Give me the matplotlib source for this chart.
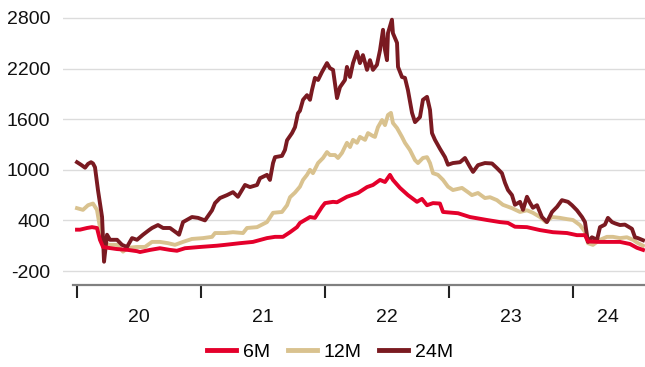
import matplotlib
matplotlib.use("Agg")
import matplotlib.pyplot as plt
import numpy as np

plt.rcParams['font.family'] = ['Liberation Sans', 'DejaVu Sans']

# decimal years and values
t24 = [2020.000, 2020.032, 2020.065, 2020.089, 2020.113, 2020.129, 2020.145, 2020.169, 2020.202, 2020.218,
       2020.242, 2020.266, 2020.323, 2020.363, 2020.403, 2020.444, 2020.484, 2020.532, 2020.581, 2020.605,
       2020.653, 2020.694, 2020.750, 2020.806, 2020.823, 2020.855, 2020.927, 2020.976, 2021.032, 2021.089,
       2021.113, 2021.153, 2021.210, 2021.258, 2021.298, 2021.355, 2021.395, 2021.452, 2021.476, 2021.532,
       2021.556, 2021.581, 2021.597, 2021.653, 2021.677, 2021.694, 2021.734, 2021.758, 2021.782, 2021.798,
       2021.823, 2021.855, 2021.879, 2021.895, 2021.919, 2021.944, 2021.976, 2022.016, 2022.040, 2022.065,
       2022.097, 2022.121, 2022.161, 2022.177, 2022.202, 2022.226, 2022.258, 2022.282, 2022.306, 2022.339,
       2022.363, 2022.387, 2022.419, 2022.444, 2022.468, 2022.484, 2022.500, 2022.508, 2022.540, 2022.548,
       2022.581, 2022.589, 2022.621, 2022.645, 2022.669, 2022.702, 2022.726, 2022.766, 2022.790, 2022.823,
       2022.847, 2022.863, 2022.887, 2022.927, 2022.968, 2022.992, 2023.032, 2023.089, 2023.129, 2023.169,
       2023.194, 2023.234, 2023.290, 2023.347, 2023.387, 2023.427, 2023.452, 2023.476, 2023.508, 2023.532,
       2023.573, 2023.597, 2023.629, 2023.653, 2023.677, 2023.710, 2023.750, 2023.790, 2023.831, 2023.871,
       2023.911, 2023.960, 2023.992, 2024.032, 2024.073, 2024.097, 2024.121, 2024.153, 2024.194, 2024.218,
       2024.258, 2024.282, 2024.315, 2024.339, 2024.379, 2024.419, 2024.476, 2024.500, 2024.524, 2024.565]
v24 = [1090, 1060, 1025, 1070, 1090, 1075, 1030, 760, 440, -90,
       230, 170, 170, 110, 85, 190, 170, 230, 285, 310,
       345, 310, 310, 250, 230, 380, 440, 430, 400, 520,
       605, 665, 700, 735, 680, 820, 795, 820, 900, 940,
       880, 1080, 1150, 1165, 1235, 1350, 1435, 1505, 1670, 1700,
       1830, 1885, 1830, 1945, 2090, 2065, 2160, 2265, 2205, 2185,
       1850, 1980, 2065, 2220, 2100, 2265, 2400, 2265, 2360, 2185,
       2300, 2185, 2245, 2420, 2660, 2420, 2300, 2620, 2780, 2620,
       2505, 2220, 2100, 2090, 1945, 1675, 1565, 1625, 1830, 1865,
       1710, 1435, 1355, 1250, 1150, 1060, 1080, 1090, 1140, 1035,
       975, 1055, 1080, 1075, 1020, 960, 845, 760, 700, 585,
       620, 525, 680, 610, 550, 580, 440, 380, 500, 560,
       640, 620, 580, 520, 440, 380, 145, 200, 170, 320,
       350, 430, 380, 365, 345, 350, 300, 200, 190, 165]

t12 = [2020.000, 2020.048, 2020.089, 2020.129, 2020.161, 2020.185, 2020.210, 2020.250, 2020.323, 2020.371,
       2020.411, 2020.484, 2020.548, 2020.605, 2020.669, 2020.734, 2020.790, 2020.855, 2020.927, 2021.016,
       2021.089, 2021.113, 2021.194, 2021.258, 2021.339, 2021.371, 2021.452, 2021.532, 2021.581, 2021.653,
       2021.694, 2021.718, 2021.758, 2021.798, 2021.823, 2021.855, 2021.879, 2021.903, 2021.944, 2021.984,
       2022.016, 2022.040, 2022.081, 2022.105, 2022.137, 2022.177, 2022.202, 2022.226, 2022.258, 2022.282,
       2022.323, 2022.347, 2022.387, 2022.403, 2022.427, 2022.460, 2022.484, 2022.508, 2022.532, 2022.548,
       2022.581, 2022.621, 2022.645, 2022.685, 2022.726, 2022.750, 2022.790, 2022.823, 2022.847, 2022.871,
       2022.911, 2022.952, 2022.992, 2023.032, 2023.105, 2023.153, 2023.185, 2023.234, 2023.290, 2023.331,
       2023.387, 2023.435, 2023.508, 2023.573, 2023.629, 2023.677, 2023.734, 2023.782, 2023.831, 2023.895,
       2023.952, 2024.000, 2024.056, 2024.097, 2024.121, 2024.161, 2024.218, 2024.274, 2024.323, 2024.379,
       2024.435, 2024.484, 2024.524, 2024.565]
v12 = [545, 525, 580, 600, 525, 320, 170, 110, 110, 30,
       75, 85, 85, 145, 145, 130, 110, 145, 180, 190,
       205, 250, 250, 260, 250, 310, 320, 380, 490, 500,
       580, 675, 730, 800, 880, 940, 1000, 960, 1080, 1140,
       1210, 1175, 1175, 1140, 1200, 1320, 1270, 1355, 1320, 1390,
       1355, 1435, 1400, 1390, 1505, 1590, 1530, 1650, 1675, 1555,
       1495, 1390, 1320, 1235, 1115, 1080, 1140, 1150, 1080, 960,
       940, 880, 800, 760, 785, 735, 700, 725, 665, 675,
       640, 585, 545, 500, 520, 490, 440, 380, 440, 430,
       415, 405, 345, 265, 130, 110, 170, 205, 205, 190,
       200, 170, 130, 100]

t6 = [2020.000, 2020.024, 2020.081, 2020.121, 2020.161, 2020.185, 2020.210, 2020.250, 2020.323, 2020.411,
      2020.484, 2020.508, 2020.589, 2020.669, 2020.750, 2020.806, 2020.871, 2020.992, 2021.129, 2021.194,
      2021.315, 2021.419, 2021.532, 2021.597, 2021.661, 2021.718, 2021.774, 2021.798, 2021.879, 2021.919,
      2021.976, 2022.000, 2022.065, 2022.097, 2022.177, 2022.266, 2022.339, 2022.387, 2022.444, 2022.484,
      2022.524, 2022.548, 2022.605, 2022.669, 2022.742, 2022.782, 2022.823, 2022.871, 2022.927, 2022.952,
      2023.032, 2023.073, 2023.169, 2023.306, 2023.411, 2023.476, 2023.532, 2023.629, 2023.734, 2023.839,
      2023.952, 2024.032, 2024.097, 2024.121, 2024.218, 2024.379, 2024.460, 2024.516, 2024.565]
v6 = [290, 290, 310, 320, 310, 170, 85, 75, 60, 50,
      35, 25, 50, 70, 50, 40, 70, 85, 100, 110,
      130, 145, 190, 205, 205, 260, 320, 370, 440, 430,
      560, 605, 620, 615, 680, 725, 795, 820, 880, 855,
      940, 880, 785, 700, 620, 655, 580, 605, 600, 500,
      490, 485, 440, 405, 380, 370, 325, 320, 285, 260,
      250, 225, 225, 150, 145, 145, 120, 75, 50]

years = [2020, 2021, 2022, 2023, 2024]
year_labels = ['20', '21', '22', '23', '24']
# label sits in the middle of the visible part of each year
label_pos = [2020.5, 2021.5, 2022.5, 2023.5, 2024.28]
yticks = [-200, 400, 1000, 1600, 2200, 2800]

fig = plt.figure(figsize=(6.45, 3.67), dpi=100)
ax = fig.add_axes([63 / 645, 82 / 367, 582 / 645, 280 / 367])

ax.plot(t6, v6, color='#E4002B', lw=2.8, label='6M', zorder=3)
ax.plot(t12, v12, color='#D9C28F', lw=2.8, label='12M', zorder=2)
ax.plot(t24, v24, color='#7A1A21', lw=2.8, label='24M', zorder=2.5)

ax.set_xlim(2019.887, 2024.581)
ax.set_ylim(-366, 2954)

ax.set_yticks(yticks)
ax.set_yticklabels([str(y) for y in yticks])
ax.yaxis.grid(True, color='#dcdcdc', lw=1.0)
ax.set_axisbelow(True)
ax.tick_params(axis='y', length=0, pad=9, labelsize=14, labelcolor='#111111')

ax.set_xticks(years)
ax.set_xticklabels([])
ax.set_xticks(label_pos, minor=True)
ax.set_xticklabels(year_labels, minor=True)
ax.tick_params(axis='x', which='major', length=9, width=1.5, color='#222222', direction='out')
ax.tick_params(axis='x', which='minor', length=0, pad=17, labelsize=14, labelcolor='#111111')

for s in ['top', 'right', 'left']:
    ax.spines[s].set_visible(False)
ax.spines['bottom'].set_color('#808080')
ax.spines['bottom'].set_linewidth(1.6)
ax.spines['bottom'].set_bounds(2019.968, 2024.581)

fig.legend(loc='center', bbox_to_anchor=(0.512, 0.041), ncol=3, frameon=False,
           fontsize=14, handlelength=1.5, handletextpad=0.35, columnspacing=0.9)
for line in fig.legends[0].get_lines():
    line.set_linewidth(3.5)

fig.savefig('out.png', dpi=100)
